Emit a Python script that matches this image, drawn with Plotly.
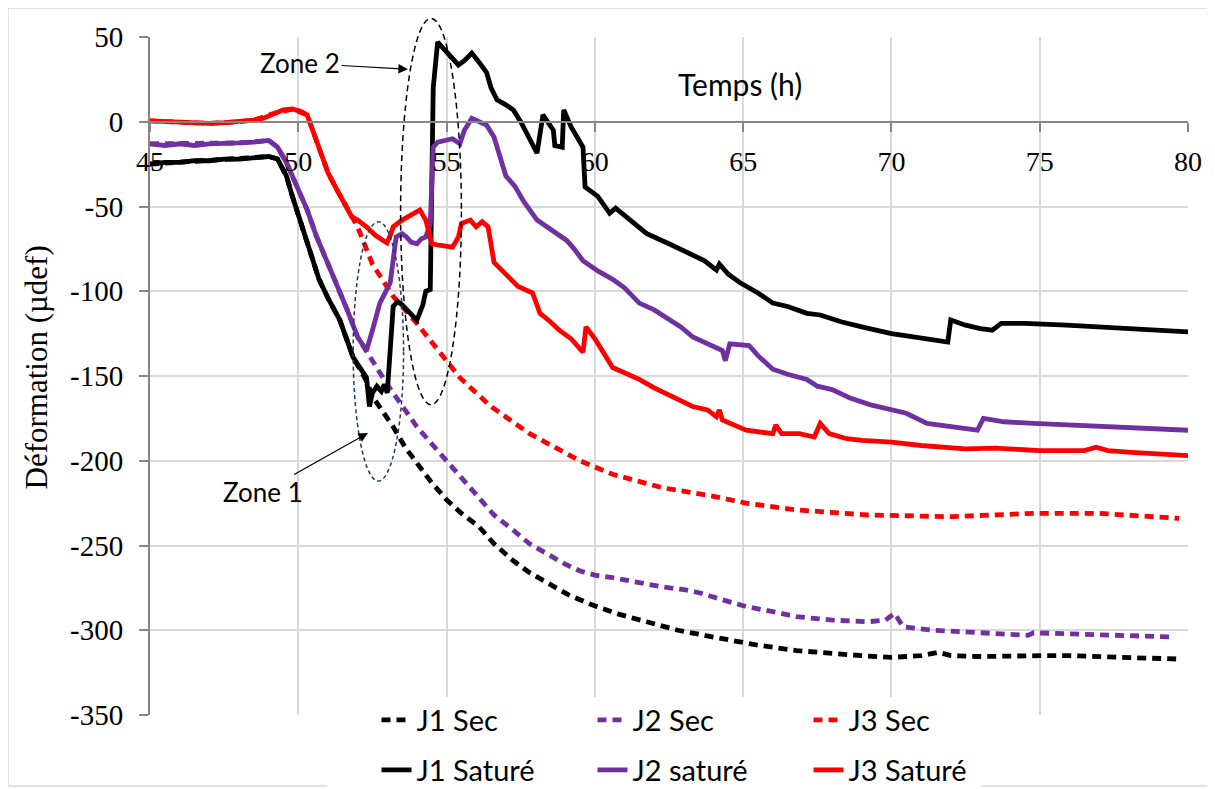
import plotly.graph_objects as go

# ---------------- data ----------------
J1_SEC_T = [45, 46, 47, 48, 49, 49.3, 49.6, 49.8, 50.3, 50.7, 51.0, 51.4, 51.85, 52.1, 52.3, 52.5, 52.8,
            53.2, 53.6, 54.1, 54.5, 55.0, 55.5, 56.1, 56.6, 57.25, 57.8, 58.4, 59.1, 59.9, 60.8, 61.75,
            62.8, 64.0, 65.4, 66.8, 68.0, 69.0, 70.0, 71.0, 71.6, 72.0, 73.0, 74.0, 75.0, 76.0, 77.0,
            78.1, 79.0, 79.7]
J1_SEC_V = [-25, -24, -23, -22, -20.5, -22, -32, -44, -70, -93, -104, -117, -139, -147, -153, -162, -170,
            -180, -192, -204, -213, -223, -231, -239, -249, -259, -266, -272, -279, -285, -290.5, -295,
            -300, -304, -308.5, -312, -314, -315, -316, -315, -313, -315, -315.5, -315, -315, -315, -315.5,
            -316, -317, -317]

J2_SEC_T = [45, 46, 47, 48, 49, 49.3, 49.6, 49.8, 50.3, 50.6, 51.0, 51.3, 51.65, 52.0, 52.3, 52.5, 53.0,
            53.5, 54.0, 54.5, 55.0, 55.5, 56.1, 56.6, 57.25, 57.8, 58.4, 59.0, 59.5, 60.0, 60.6, 61.5,
            62.3, 63.0, 63.55, 64.3, 65.1, 66.0, 66.8, 68.0, 69.2, 69.8, 70.1, 70.4, 71.4, 72.5, 73.7,
            74.6, 74.8, 76.0, 77.0, 78.1, 79.5]
J2_SEC_V = [-13, -13, -13, -12.5, -11, -15, -24, -32, -52, -67, -83.5, -97, -111, -127, -135, -141, -155,
            -168, -180, -190, -200, -211, -223, -232, -241, -249, -255, -261, -265, -267.5, -269, -272,
            -274.5, -276, -278, -282, -286, -289, -292, -294, -295, -294, -290, -298, -300, -301, -302,
            -303, -301.5, -302, -302.5, -303.5, -304]

J3_SEC_T = [45, 46, 47, 48, 48.5, 49.2, 49.8, 50.3, 50.6, 51.0, 51.3, 51.6, 51.8, 52.0, 52.5, 53.2, 54.0,
            54.8, 55.0, 55.45, 56.0, 56.5, 57.8, 59.5, 60.6, 62.3, 64.0, 65.1, 66.8, 69.2, 72.0, 74.8,
            77.0, 78.1, 79.7]
J3_SEC_V = [0.5, -0.5, -1, 0, 1, 5, 7.5, 4, -10, -30, -40, -50, -56, -62, -84, -103, -119,
            -137, -141, -151, -160, -168, -184, -200, -208, -216, -221, -225, -229, -232, -233, -231,
            -231, -232, -234]

J1_SAT_T = [45.0, 45.5, 46.0, 46.5, 47.0, 47.5, 48.0, 48.5, 49.0, 49.3, 49.6, 49.8, 50.3, 50.7, 51.0,
            51.4, 51.85, 52.1, 52.3, 52.4, 52.5, 52.65, 52.8, 52.9, 53.0, 53.2, 53.35, 53.5, 53.7, 54.0,
            54.2, 54.3, 54.45, 54.5, 54.55, 54.7, 55.0, 55.4, 55.6, 55.85, 56.1, 56.35, 56.5, 56.7, 57.0,
            57.25, 57.5, 57.8, 58.05, 58.25, 58.5, 58.6, 58.65, 58.9, 58.95, 59.2, 59.6, 59.67, 60.1,
            60.5, 60.7, 61.2, 61.75, 62.5, 63.2, 63.7, 64.1, 64.2, 64.5, 64.9, 65.5, 66.0, 66.5, 67.15,
            67.6, 68.3, 69.0, 70.0, 70.8, 71.6, 71.9, 72.0, 72.5, 73.0, 73.4, 73.7, 74.5, 75.9, 77.0,
            78.1, 79.0, 80.0]
J1_SAT_V = [-25, -24, -24, -23, -23, -22, -22, -21, -20.5, -22, -32, -44, -70, -93, -104,
            -117, -139, -146, -151, -168, -160, -156, -159, -155, -160, -109, -106, -108, -112, -117,
            -108, -100, -99, 0, 20, 47, 41, 33.5, 36, 40.5, 35, 29, 20, 13, 10,
            7, 0, -10, -18.5, 4, -3, -5, -14, -15, 7, -3, -15, -38.5, -44,
            -54, -51, -58, -66, -72, -78, -82, -87.5, -84, -90, -95, -101, -107, -109, -113,
            -114, -118, -121, -125, -127, -129, -130, -117, -120, -122, -123, -119, -119, -120, -121,
            -122, -123, -124]

J2_SAT_T = [45, 45.5, 46, 46.5, 47, 47.5, 48, 48.5, 49, 49.3, 49.6, 49.8, 50.3, 50.6, 51.0, 51.3, 51.65,
            52.0, 52.3, 52.5, 52.75, 53.1, 53.3, 53.5, 53.65, 53.8, 54.0, 54.15, 54.3, 54.45, 54.5, 54.55,
            54.7, 55.0, 55.2, 55.45, 55.6, 55.85, 56.1, 56.35, 56.6, 56.8, 57.0, 57.3, 57.6, 58.05, 58.3,
            58.6, 59.05, 59.3, 59.6, 60.1, 60.6, 61.0, 61.5, 62.0, 62.5, 62.9, 63.3, 63.8, 64.3, 64.4,
            64.55, 65.2, 65.5, 66.0, 66.5, 67.15, 67.5, 68.0, 68.6, 69.3, 70.0, 70.5, 71.2, 72.0, 72.9,
            73.1, 73.8, 74.8, 76.0, 77.0, 78.5, 80.0]
J2_SAT_V = [-13, -14, -13, -14, -13, -13, -12.5, -12, -11, -15, -24, -32, -52, -67, -83.5, -97, -111,
            -127, -135, -123, -107, -95, -68, -66, -68, -71, -72, -69, -68, -60, -40, -15,
            -12, -11, -10, -13, -5, 2, 0, -2, -9, -20, -32, -38, -47, -58, -61,
            -64, -70, -75, -82, -88, -93, -98, -107, -111, -117, -121, -127, -131, -135, -141,
            -131, -132, -138, -146, -149, -152, -156, -158, -163, -167, -170, -172, -178, -180, -182,
            -175, -177, -178, -179, -180, -181, -182]

J3_SAT_T = [45, 45.5, 46, 46.5, 47, 47.5, 48, 48.5, 48.8, 49.2, 49.5, 49.8, 50.1, 50.3, 50.6, 51.0, 51.3,
            51.6, 51.8, 52.0, 52.3, 52.6, 52.99, 53.1, 53.2, 53.5, 53.8, 54.1, 54.3, 54.5, 54.8, 55.2,
            55.4, 55.5, 55.8, 56.0, 56.2, 56.4, 56.6, 57.0, 57.4, 57.9, 58.15, 58.5, 58.8, 59.2, 59.6,
            59.7, 60.0, 60.6, 61.0, 61.5, 62.0, 62.6, 63.3, 63.8, 64.1, 64.2, 64.3, 65.1, 65.5, 66.0,
            66.1, 66.3, 66.9, 67.4, 67.6, 67.9, 68.5, 69.0, 70.0, 71.0, 72.5, 73.5, 75.0, 76.5, 76.9,
            77.3, 78.1, 79.0, 80.0]
J3_SAT_V = [0.5, 0, -0.5, -1, -1, -0.5, 0, 1, 2, 5, 7, 7.5, 6, 4, -10, -30, -40,
            -50, -56, -58, -62, -67, -71.5, -67, -62, -58, -55, -52, -58, -72, -73, -74,
            -68, -60, -58, -62, -59, -62, -83, -90, -97, -101, -113, -118, -123, -128, -136,
            -121, -128, -145, -148, -152, -157, -162, -168, -170, -174, -170, -176, -182, -183, -184,
            -179, -184, -184, -186, -178, -184, -187, -188, -189, -191, -193, -192.5, -194, -194, -192,
            -194, -195, -196, -197]

SERIES = [
    ("J1 Sec", J1_SEC_T, J1_SEC_V, "#000000", "9px,6px", "legend"),
    ("J2 Sec", J2_SEC_T, J2_SEC_V, "#7030A0", "9px,6px", "legend"),
    ("J3 Sec", J3_SEC_T, J3_SEC_V, "#FF0000", "9px,6px", "legend"),
    ("J1 Saturé", J1_SAT_T, J1_SAT_V, "#000000", "solid", "legend2"),
    ("J2 saturé", J2_SAT_T, J2_SAT_V, "#7030A0", "solid", "legend2"),
    ("J3 Saturé", J3_SAT_T, J3_SAT_V, "#FF0000", "solid", "legend2"),
]

X_TICKS = [45, 50, 55, 60, 65, 70, 75, 80]
Y_TICKS = [50, 0, -50, -100, -150, -200, -250, -300, -350]
Y_RANGE = [-350, 50]

# annotation geometry (data coordinates: x0, x1, y0, y1)
ZONE1_ELLIPSE = (51.85, 53.55, -212, -59)
ZONE2_ELLIPSE = (53.45, 55.5, -167, 61)


def yfrac(v):
    return (v - Y_RANGE[0]) / (Y_RANGE[1] - Y_RANGE[0])


fig = go.Figure()
for name, t, v, color, dash, leg in SERIES:
    fig.add_trace(go.Scatter(x=t, y=v, mode="lines", name=name, legend=leg,
                             line=dict(color=color, width=4.8, dash=dash)))

SERIF = "Liberation Serif, Times New Roman, serif"
SANS = "Lato"
GRID = "#D9D9D9"
AXIS = "#868686"

legend_common = dict(orientation="h", x=0.2182, xanchor="left", yref="container", yanchor="middle",
                     entrywidth=171, bgcolor="rgba(255,255,255,0)", itemclick=False,
                     font=dict(family=SANS, size=29, color="black"))

fig.update_layout(
    width=1207, height=781,
    margin=dict(l=142, r=27, t=29, b=74, autoexpand=False),
    paper_bgcolor="white", plot_bgcolor="white",
    xaxis=dict(range=[45, 80], tickvals=X_TICKS, ticktext=[str(v) for v in X_TICKS],
               anchor="free", position=yfrac(0), showline=True, linecolor=AXIS, linewidth=2,
               ticks="outside", ticklen=9, tickwidth=2, tickcolor=AXIS,
               showgrid=True, gridcolor=GRID, gridwidth=2, zeroline=False, automargin=False,
               tickfont=dict(family=SERIF, size=28, color="black"), ticklabelstandoff=6),
    yaxis=dict(range=Y_RANGE, tickvals=Y_TICKS, ticktext=[str(v) for v in Y_TICKS],
               showline=True, linecolor=AXIS, linewidth=2,
               ticks="outside", ticklen=9, tickwidth=2, tickcolor=AXIS,
               showgrid=True, gridcolor=GRID, gridwidth=2, zeroline=False, automargin=False,
               tickfont=dict(family=SERIF, size=29, color="black"), ticklabelstandoff=10),
    legend=dict(legend_common, y=0.0883),
    legend2=dict(legend_common, y=0.0243),
    showlegend=True,
)

# outer chart border
fig.add_shape(type="rect", xref="paper", yref="paper", x0=-0.1368, x1=1.0231, y0=-0.1047, y1=1.0428,
              line=dict(color=GRID, width=1.5), layer="below")
# white legend panel (covers the gridlines behind the legend block)
fig.add_shape(type="rect", xref="paper", yref="paper", x0=0.1705, x1=0.8006, y0=-0.12, y1=0.0265,
              line=dict(width=0), fillcolor="white", layer="above")

# zone ellipses (y in paper fraction so the ellipse may pass above the plot top)
x0, x1, y0, y1 = ZONE1_ELLIPSE
fig.add_shape(type="circle", xref="x", yref="paper", x0=x0, x1=x1, y0=yfrac(y0), y1=yfrac(y1),
              line=dict(color="#203864", width=1.5, dash="4px,3px"))
x0, x1, y0, y1 = ZONE2_ELLIPSE
fig.add_shape(type="circle", xref="x", yref="paper", x0=x0, x1=x1, y0=yfrac(y0), y1=yfrac(y1),
              line=dict(color="#000000", width=1.5, dash="6px,4px"))

# zone labels with arrows
fig.add_annotation(x=53.7, y=31, xref="x", yref="y", text="Zone 2", showarrow=True,
                   ax=-108, ay=-6, arrowhead=2, arrowsize=1.6, arrowwidth=1.2, arrowcolor="black",
                   font=dict(family=SANS, size=26, color="black"))
fig.add_annotation(x=52.35, y=-183.6, xref="x", yref="y", text="Zone 1", showarrow=True,
                   ax=-105, ay=59, arrowhead=2, arrowsize=1.6, arrowwidth=1.2, arrowcolor="black",
                   font=dict(family=SANS, size=26, color="black"))

# axis titles
fig.add_annotation(x=64.9, y=22, xref="x", yref="y", text="Temps (h)", showarrow=False,
                   font=dict(family=SANS, size=30, color="black"))
fig.add_annotation(x=-0.1084, y=0.5133, xref="paper", yref="paper", xanchor="center", yanchor="middle",
                   text="Déformation (µdef)", showarrow=False, textangle=-90,
                   font=dict(family=SERIF, size=31, color="black"))

fig.write_html("out.html")
